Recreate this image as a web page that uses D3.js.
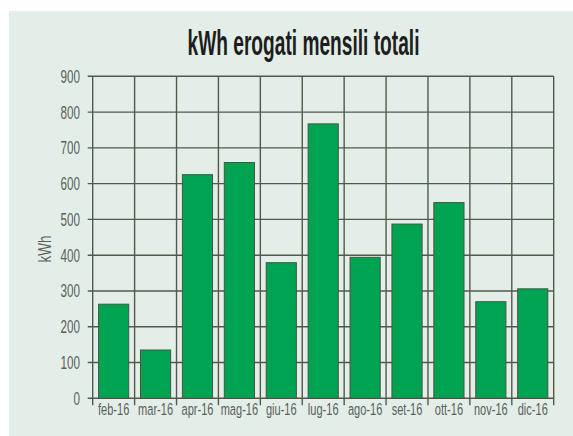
<!DOCTYPE html>
<html><head><meta charset="utf-8">
<script src="https://cdn.jsdelivr.net/npm/d3@7"></script>
<style>
html,body{margin:0;padding:0;background:#fff;}
svg{display:block;}
</style></head>
<body>
<script>
const months = ["feb-16","mar-16","apr-16","mag-16","giu-16","lug-16","ago-16","set-16","ott-16","nov-16","dic-16"];
const kwh = [263,135,625,659,379,767,394,487,547,270,306];
const yTicks = [0,100,200,300,400,500,600,700,800,900];
const title = "kWh erogati mensili totali";
const yLabel = "kWh";

const W = 573, H = 436;
const L = 92.7, R = 553.7, T = 76.3, B = 398.3;
const SX = 0.65;
const gridColor = "#54584a";
const labelColor = "#5b5e5a";
const font = "'Liberation Sans Narrow','Liberation Sans',Arial,sans-serif";

const svg = d3.select("body").append("svg").attr("width", W).attr("height", H);

svg.append("rect").attr("x", 9).attr("y", 11).attr("width", W - 9).attr("height", H - 11).attr("fill", "#e4eee9");

const x = d3.scaleBand().domain(months).range([L, R]).paddingInner(0.28).paddingOuter(0.14);
const y = d3.scaleLinear().domain([0, 900]).range([B, T]);
const step = x.step();
const bounds = d3.range(months.length + 1).map(i => L + i * step);

// horizontal gridlines (with outward tick)
svg.append("g").selectAll("line").data(yTicks).join("line")
  .attr("x1", L - 5).attr("x2", R)
  .attr("y1", d => y(d)).attr("y2", d => y(d))
  .attr("stroke", gridColor).attr("stroke-width", 1.4);

// vertical gridlines (with outward tick at bottom)
svg.append("g").selectAll("line").data(bounds).join("line")
  .attr("x1", d => d).attr("x2", d => d)
  .attr("y1", T).attr("y2", B + 7)
  .attr("stroke", gridColor).attr("stroke-width", 1.4);

// bars
svg.append("g").selectAll("rect").data(kwh).join("rect")
  .attr("x", (d, i) => x(months[i]))
  .attr("y", d => y(d))
  .attr("width", x.bandwidth())
  .attr("height", d => B - y(d))
  .attr("fill", "#00a34f")
  .attr("stroke", "#4e5048").attr("stroke-width", 1);

// y tick labels
svg.append("g").selectAll("text").data(yTicks).join("text")
  .attr("transform", d => `translate(80,${y(d) + 6.5}) scale(${SX},1)`)
  .attr("text-anchor", "end")
  .attr("font-family", font).attr("font-size", 18)
  .attr("fill", labelColor)
  .text(d => d);

// x tick labels
svg.append("g").selectAll("text").data(months).join("text")
  .attr("transform", d => `translate(${x(d) + x.bandwidth() / 2},${415}) scale(${SX},1)`)
  .attr("text-anchor", "middle")
  .attr("font-family", font).attr("font-size", 17)
  .attr("fill", labelColor)
  .text(d => d);

// y axis title
svg.append("text")
  .attr("transform", `translate(51,249) rotate(-90) scale(0.75,1)`)
  .attr("text-anchor", "middle")
  .attr("font-family", font).attr("font-size", 18)
  .attr("fill", labelColor)
  .text(yLabel);

// title
const t = svg.append("text")
  .attr("text-anchor", "middle")
  .attr("font-family", font).attr("font-size", 35).attr("font-weight", "bold")
  .attr("fill", "#1e1e1e")
  .text(title);
const tw = t.node().getComputedTextLength();
t.attr("transform", `translate(303.5,55) scale(${232 / tw},1)`);
</script>
</body></html>
